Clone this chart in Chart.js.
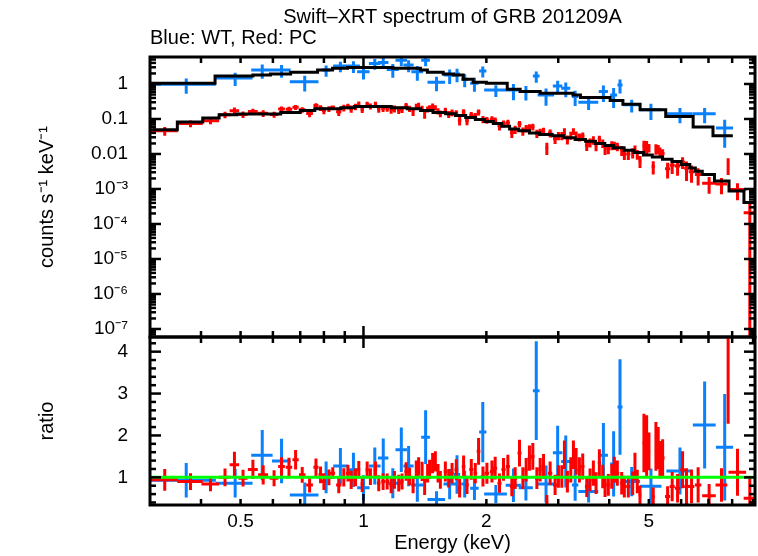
<!DOCTYPE html>
<html><head><meta charset="utf-8">
<script src="https://cdn.jsdelivr.net/npm/chart.js@4/dist/chart.umd.min.js"></script>
<style>
html,body{margin:0;padding:0;background:#fff;}
#wrap{position:relative;width:758px;height:556px;background:#fff;}
#wrap canvas{position:absolute;left:0;top:0;}
</style></head><body>
<div id="wrap"><canvas id="cTop" width="758" height="556"></canvas><canvas id="cBot" width="758" height="556"></canvas></div>
<script>
// ---------- text ----------
const titleText = 'Swift–XRT spectrum of GRB 201209A';
const subtitleText = 'Blue: WT, Red: PC';
const topYTitle = 'counts s⁻¹ keV⁻¹';
const botYTitle = 'ratio';
const xTitle = 'Energy (keV)';

// ---------- axes ----------
const xMin = 0.3, xMax = 9.1;
const topYMin = 5.9e-8, topYMax = 5.9;
const ratioMin = 0.34, ratioMax = 4.35;
const xTickValues = [0.5, 1, 2, 5];
const xTickLabels = ['0.5', '1', '2', '5'];
const xMajorMarks = [1];
const xMinorMarks = [0.4,0.5,0.6,0.7,0.8,0.9,2,3,4,5,6,7,8,9];
const topYTickValues = [1e-7,1e-6,1e-5,1e-4,1e-3,0.01,0.1,1];
const topYTickLabels = ['10⁻⁷','10⁻⁶','10⁻⁵','10⁻⁴','10⁻³','0.01','0.1','1'];
const ratioTickValues = [1,2,3,4];
const ratioTickLabels = ['1','2','3','4'];
const ratioMinorMarks = [0.4,0.6,0.8,1.2,1.4,1.6,1.8,2.2,2.4,2.6,2.8,3.2,3.4,3.6,3.8,4.2];

// ---------- WT (blue) ----------
const blueE  = [0.368,0.485,0.565,0.630,0.718,0.810,0.878,0.945,1.000,1.066,1.118,1.180,1.238,1.290,1.355,1.420,1.510,1.626,1.695,1.770,1.870,1.960,2.110,2.330,2.500,2.650,2.800,2.990,3.130,3.300,3.560,3.870,4.100,4.250,4.540,5.060,5.960,6.850,7.670];
const blueDE = [0.067,0.050,0.034,0.033,0.058,0.020,0.035,0.035,0.035,0.035,0.033,0.040,0.040,0.037,0.045,0.035,0.075,0.055,0.030,0.035,0.045,0.040,0.135,0.100,0.100,0.050,0.130,0.080,0.080,0.060,0.200,0.100,0.080,0.060,0.220,0.310,0.440,0.440,0.370];
const blueV  = [0.98,1.48,2.5,2.5,1.16,2.5,3.25,3.25,2.24,3.87,4.1,2.6,4.8,3.46,2.24,4.8,1.12,1.8,1.92,1.36,1.05,2.34,0.675,0.675,0.605,1.69,0.487,0.88,0.755,0.436,0.302,0.605,0.487,0.937,0.253,0.183,0.14,0.14,0.055];
const blueVE = [0.45,0.6,1.1,1.0,0.55,0.9,1.1,1.2,0.9,1.3,1.4,1.1,1.6,1.3,1.0,1.6,0.5,0.8,0.8,0.55,0.45,0.8,0.25,0.33,0.27,0.6,0.25,0.35,0.34,0.2,0.12,0.3,0.28,0.4,0.1,0.09,0.065,0.065,0.04];
const blueR  = [0.93,0.86,1.53,1.39,0.58,1.0,1.27,1.18,0.75,1.27,1.46,0.86,1.66,1.27,0.82,1.96,0.47,0.84,1.07,0.84,0.74,2.08,0.60,0.81,0.75,3.07,0.84,1.59,1.38,0.82,0.66,1.53,1.32,2.68,0.90,0.79,1.15,2.25,1.72];
const blueRE = [0.41,0.34,0.60,0.53,0.30,0.38,0.43,0.41,0.30,0.44,0.47,0.36,0.53,0.48,0.40,0.64,0.20,0.36,0.46,0.32,0.28,0.72,0.22,0.40,0.30,1.18,0.44,0.64,0.62,0.38,0.26,0.77,0.78,1.14,0.35,0.42,0.56,1.04,1.27];
const blueModelE = [0.30,0.433,0.536,0.592,0.663,0.772,0.84,0.914,1.18,1.379,1.434,1.568,1.66,1.756,1.857,2.0,2.25,2.42,2.71,3.26,3.4,4.02,4.32,4.76,5.5,6.42,7.18,8.03];
const blueModelV = [1.05,1.69,1.8,1.92,2.15,2.5,2.8,2.98,2.8,2.5,2.15,1.92,1.8,1.36,1.12,1.05,0.71,0.605,0.544,0.487,0.41,0.336,0.265,0.183,0.118,0.059,0.0334];

// ---------- PC (red) ----------
const redE = [
0.326,0.377,0.422,0.458,0.483,0.507,0.536,0.568,0.604,0.630,
0.657,0.682,0.708,0.738,0.765,0.785,0.800,0.823,0.841,0.870,
0.895,0.916,0.933,0.956,0.974,0.993,1.021,1.040,1.070,1.090,
1.117,1.143,1.169,1.191,1.220,1.243,1.272,1.297,1.323,1.347,
1.365,1.392,1.412,1.436,1.452,1.477,1.500,1.523,1.543,1.587,
1.617,1.648,1.688,1.720,1.759,1.793,1.837,1.879,1.914,1.962,
2.006,2.064,2.102,2.154,2.203,2.258,2.309,2.353,2.411,2.457,
2.503,2.550,2.599,2.659,2.709,2.760,2.813,2.866,2.947,3.003,
3.061,3.106,3.159,3.220,3.268,3.318,3.380,3.444,3.523,3.589,
3.657,3.713,3.783,3.856,3.906,3.979,4.056,4.115,4.186,4.291,
4.355,4.454,4.565,4.624,4.685,4.757,4.864,4.939,5.004,5.126,
5.204,5.272,5.323,5.405,5.559,5.704,5.880,6.048,6.185,6.362,
6.603,7.025,7.534,7.820,8.245,8.837];
const redDE = [
0.025,0.027,0.021,0.015,0.013,0.013,0.015,0.016,0.015,0.012,
0.012,0.012,0.013,0.014,0.011,0.009,0.009,0.010,0.011,0.013,
0.012,0.010,0.010,0.011,0.009,0.010,0.010,0.010,0.010,0.011,
0.012,0.012,0.012,0.011,0.012,0.012,0.013,0.013,0.012,0.011,
0.011,0.012,0.011,0.011,0.011,0.012,0.012,0.011,0.011,0.015,
0.015,0.017,0.018,0.017,0.018,0.019,0.021,0.020,0.020,0.022,
0.025,0.024,0.023,0.025,0.026,0.026,0.024,0.026,0.027,0.023,
0.023,0.024,0.027,0.028,0.026,0.026,0.026,0.035,0.035,0.028,
0.025,0.024,0.028,0.027,0.025,0.028,0.031,0.035,0.036,0.034,
0.031,0.033,0.036,0.030,0.031,0.038,0.034,0.032,0.045,0.040,
0.045,0.050,0.040,0.030,0.033,0.045,0.045,0.035,0.045,0.050,
0.040,0.030,0.035,0.060,0.080,0.080,0.090,0.080,0.080,0.100,
0.120,0.270,0.250,0.030,0.410,0.300];
const redV = [
0.046,0.074,0.089,0.132,0.172,0.135,0.164,0.146,0.135,0.193,
0.190,0.217,0.184,0.143,0.242,0.207,0.176,0.195,0.215,0.160,
0.210,0.231,0.197,0.226,0.267,0.190,0.267,0.231,0.267,0.194,
0.203,0.203,0.185,0.197,0.181,0.189,0.239,0.199,0.160,0.230,
0.246,0.198,0.136,0.191,0.207,0.233,0.211,0.168,0.144,0.174,
0.137,0.154,0.148,0.0925,0.158,0.090,0.131,0.121,0.157,0.099,
0.0935,0.097,0.090,0.0636,0.0738,0.0781,0.0406,0.051,0.0727,0.0451,
0.0543,0.0584,0.060,0.0392,0.0425,0.0454,0.0151,0.0396,0.0271,0.0337,
0.0337,0.0447,0.0261,0.0342,0.0447,0.0359,0.0307,0.0328,0.0179,0.0216,
0.0253,0.0172,0.0268,0.0204,0.0137,0.0144,0.0179,0.0177,0.0165,0.0129,
0.0100,0.0100,0.0110,0.0139,0.0099,0.0064,0.0171,0.0164,0.0152,0.0044,
0.0143,0.0139,0.0116,0.0104,0.0038,0.0048,0.0045,0.0059,0.0039,0.0031,
0.0026,0.00146,0.00139,0.0050,0.00097,0.00021];
const redVE = [
0.0127,0.0164,0.018,0.0277,0.041,0.0276,0.0317,0.0317,0.0262,0.0337,
0.0352,0.0352,0.033,0.0313,0.041,0.039,0.039,0.037,0.027,0.039,
0.046,0.042,0.046,0.047,0.047,0.043,0.045,0.045,0.045,0.043,
0.045,0.043,0.045,0.044,0.042,0.040,0.046,0.041,0.039,0.043,
0.043,0.040,0.035,0.038,0.040,0.042,0.037,0.034,0.032,0.037,
0.031,0.034,0.031,0.0275,0.0325,0.024,0.0275,0.026,0.031,0.023,
0.021,0.022,0.020,0.017,0.0167,0.0174,0.012,0.0135,0.0147,0.012,
0.0129,0.012,0.0128,0.0104,0.0101,0.0108,0.0058,0.0101,0.0079,0.0089,
0.0089,0.0099,0.0075,0.0087,0.0099,0.0083,0.0078,0.0081,0.0058,0.0062,
0.0069,0.0052,0.0066,0.0056,0.0044,0.0046,0.0051,0.0047,0.0045,0.0041,
0.0033,0.0033,0.0036,0.0036,0.0031,0.0024,0.0066,0.0070,0.0042,0.0018,
0.0048,0.0041,0.0037,0.0032,0.0018,0.0021,0.0021,0.0022,0.0022,0.0016,
0.00134,0.00073,0.00068,0.0025,0.00049,0.00022];
const redR = [
0.94,0.90,0.84,1.00,1.30,0.98,1.19,1.06,0.98,1.26,
1.24,1.42,1.06,0.82,1.24,1.06,0.90,1.00,1.10,0.82,
1.00,1.10,0.94,1.00,1.18,0.84,1.18,1.02,1.18,0.86,
0.90,0.90,0.82,0.94,0.86,0.90,1.14,1.02,0.82,1.18,
1.26,1.14,0.78,1.10,1.19,1.34,1.38,1.10,0.94,1.14,
0.98,1.10,1.18,0.74,1.26,0.82,1.19,1.10,1.62,1.02,
1.10,1.14,1.22,0.86,1.19,1.26,0.78,0.98,1.58,0.98,
1.18,1.46,1.50,0.98,1.18,1.26,0.42,1.10,0.82,1.02,
1.02,1.54,0.90,1.18,1.54,1.38,1.18,1.26,0.78,0.94,
1.10,0.86,1.34,1.02,0.78,0.82,1.02,1.18,1.10,0.86,
0.78,0.78,0.86,1.26,0.90,0.58,1.82,1.74,1.62,0.54,
1.74,1.70,1.42,1.46,0.54,0.78,0.74,1.18,0.78,0.78,
0.82,0.56,0.82,4.28,1.12,0.50];
const redRE = [
0.26,0.20,0.17,0.21,0.31,0.20,0.23,0.23,0.19,0.22,
0.23,0.23,0.19,0.18,0.21,0.20,0.20,0.19,0.14,0.20,
0.22,0.20,0.22,0.21,0.21,0.19,0.20,0.20,0.20,0.19,
0.20,0.19,0.20,0.21,0.20,0.19,0.22,0.21,0.20,0.22,
0.22,0.23,0.20,0.22,0.23,0.24,0.24,0.22,0.21,0.24,
0.22,0.24,0.25,0.22,0.26,0.22,0.25,0.24,0.32,0.24,
0.25,0.26,0.27,0.23,0.27,0.28,0.23,0.26,0.32,0.26,
0.28,0.30,0.32,0.26,0.28,0.30,0.16,0.28,0.24,0.27,
0.27,0.34,0.26,0.30,0.34,0.32,0.30,0.31,0.25,0.27,
0.30,0.26,0.33,0.28,0.25,0.26,0.29,0.31,0.30,0.27,
0.26,0.26,0.28,0.33,0.28,0.22,0.70,0.74,0.45,0.22,
0.58,0.50,0.45,0.45,0.25,0.35,0.34,0.44,0.44,0.40,
0.42,0.28,0.40,2.00,0.56,0.50];
const redModelE = [0.305,0.350,0.404,0.443,0.490,0.627,0.700,0.760,0.880,0.950,1.170,1.280,1.380,1.480,1.590,1.680,1.780,1.880,1.980,2.080,2.180,2.280,2.400,2.550,2.700,2.900,3.100,3.300,3.500,3.700,3.900,4.100,4.350,4.600,4.850,5.100,5.400,5.700,6.000,6.300,6.500,6.760,7.240,7.860,8.550,9.120];
const redModelV = [0.049,0.082,0.106,0.132,0.138,0.153,0.174,0.195,0.210,0.226,0.210,0.195,0.174,0.153,0.140,0.125,0.110,0.097,0.085,0.074,0.062,0.052,0.046,0.040,0.036,0.033,0.029,0.026,0.023,0.020,0.0175,0.0150,0.0128,0.0110,0.0094,0.0082,0.0071,0.0061,0.0050,0.0040,0.0032,0.0026,0.0017,0.00087,0.00041];
const unityLine = [{x: xMin, y: 1}, {x: xMax, y: 1}];

// ---------- colours ----------
const BLUE = 'rgb(10,128,250)', RED = 'rgb(255,0,0)', GREEN = 'rgb(0,255,0)', BLACK = '#000';

// ---------- builders ----------
function errorCrosses(E, dE, V, VE, floor) {
  const pts = [];
  for (let i = 0; i < E.length; i++) {
    pts.push({x: E[i] - dE[i], y: V[i]}, {x: E[i] + dE[i], y: V[i]}, {x: E[i], y: null});
    let lo = V[i] - VE[i];
    if (floor !== undefined && lo <= floor) lo = floor;
    pts.push({x: E[i], y: lo}, {x: E[i], y: V[i] + VE[i]}, {x: E[i], y: null});
  }
  return pts;
}
function stepLine(edges, vals) {
  return edges.map((e, i) => ({x: e, y: vals[Math.min(i, vals.length - 1)]}));
}
function barSet(label, data, color, width, order) {
  return {label, data, showLine: true, borderColor: color, backgroundColor: color, borderWidth: width,
          pointRadius: 0, spanGaps: false, order};
}

// ---------- frame + inward ticks ----------
const framePlugin = {
  id: 'frame',
  afterDatasetsDraw(chart, args, o) {
    const {ctx, chartArea: a, scales} = chart;
    const xs = scales.x, ys = scales.y;
    ctx.save();
    ctx.strokeStyle = BLACK;
    ctx.lineWidth = 3;
    ctx.strokeRect(a.left, a.top, a.right - a.left, a.bottom - a.top);
    ctx.lineWidth = 2.5;
    const seg = (x1, y1, x2, y2) => { ctx.beginPath(); ctx.moveTo(x1, y1); ctx.lineTo(x2, y2); ctx.stroke(); };
    const xt = (vals, len) => vals.forEach(v => {
      const p = xs.getPixelForValue(v);
      if (p < a.left + 1 || p > a.right - 1) return;
      seg(p, a.top, p, a.top + len); seg(p, a.bottom, p, a.bottom - len);
    });
    const yt = (vals, len) => vals.forEach(v => {
      const p = ys.getPixelForValue(v);
      if (p < a.top + 1 || p > a.bottom - 1) return;
      seg(a.left, p, a.left + len, p); seg(a.right, p, a.right - len, p);
    });
    xt(o.xMinor, 6); xt(o.xMajor, 11);
    yt(o.yMinor, 6); yt(o.yMajor, 11);
    ctx.restore();
  }
};

Chart.defaults.font.family = "'Liberation Sans', Arial, Helvetica, sans-serif";
Chart.defaults.color = '#000';

const topYMinorMarks = [];
for (let d = -8; d <= 0; d++) for (let k = 2; k <= 9; k++) {
  const v = k * Math.pow(10, d);
  if (v > topYMin && v < topYMax) topYMinorMarks.push(v);
}

new Chart(document.getElementById('cTop'), {
  type: 'scatter',
  data: {datasets: [
    {...barSet('WT model', stepLine(blueModelE, blueModelV), BLACK, 3, 1), stepped: true},
    {...barSet('PC model', stepLine(redModelE, redModelV), BLACK, 3, 1), stepped: true},
    barSet('PC', errorCrosses(redE, redDE, redV, redVE, topYMin), RED, 3, 2),
    barSet('WT', errorCrosses(blueE, blueDE, blueV, blueVE, topYMin), BLUE, 3, 3)
  ]},
  plugins: [framePlugin],
  options: {
    responsive: false, animation: false, events: [],
    layout: {padding: {top: 0, left: 0, right: 3, bottom: 219}},
    plugins: {
      legend: {display: false}, tooltip: {enabled: false},
      title: {display: true, text: titleText, fullSize: false, align: 'center', color: '#000',
              font: {size: 20, weight: 'normal', lineHeight: 1.0}, padding: {top: 7, bottom: 0}},
      subtitle: {display: true, text: subtitleText, fullSize: false, align: 'start', color: '#000',
              font: {size: 20, weight: 'normal', lineHeight: 1.0}, padding: {top: 1, bottom: 9}},
      frame: {xMajor: xMajorMarks, xMinor: xMinorMarks, yMajor: topYTickValues, yMinor: topYMinorMarks}
    },
    scales: {
      x: {type: 'logarithmic', min: xMin, max: xMax, display: false},
      y: {type: 'logarithmic', min: topYMin, max: topYMax, position: 'left',
          afterBuildTicks: s => { s.ticks = topYTickValues.map(v => ({value: v})); },
          afterFit: s => { s.width = 150; },
          grid: {display: false}, border: {display: false},
          ticks: {autoSkip: false, padding: 14, color: '#000', font: {size: 19},
                  callback: (v, i) => topYTickLabels[i]},
          title: {display: true, text: topYTitle, color: '#000', font: {size: 20}, padding: {top: 35, bottom: 0}}}
    }
  }
});

new Chart(document.getElementById('cBot'), {
  type: 'scatter',
  data: {datasets: [
    barSet('unity', unityLine, GREEN, 3, 0),
    barSet('PC ratio', errorCrosses(redE, redDE, redR, redRE), RED, 3, 2),
    barSet('WT ratio', errorCrosses(blueE, blueDE, blueR, blueRE), BLUE, 3, 3)
  ]},
  plugins: [framePlugin],
  options: {
    responsive: false, animation: false, events: [],
    layout: {padding: {top: 337, left: 0, right: 3, bottom: 0}},
    plugins: {
      legend: {display: false}, tooltip: {enabled: false},
      frame: {xMajor: xMajorMarks, xMinor: xMinorMarks, yMajor: ratioTickValues, yMinor: ratioMinorMarks}
    },
    scales: {
      x: {type: 'logarithmic', min: xMin, max: xMax, position: 'bottom',
          afterBuildTicks: s => { s.ticks = xTickValues.map(v => ({value: v})); },
          afterFit: s => { s.height = 51; },
          grid: {display: false}, border: {display: false},
          ticks: {autoSkip: false, maxRotation: 0, padding: -3, color: '#000', font: {size: 19},
                  callback: (v, i) => xTickLabels[i]},
          title: {display: true, text: xTitle, color: '#000', font: {size: 20}, padding: {top: 0, bottom: 1}}},
      y: {type: 'linear', min: ratioMin, max: ratioMax, position: 'left',
          afterBuildTicks: s => { s.ticks = ratioTickValues.map(v => ({value: v})); },
          afterFit: s => { s.width = 150; },
          grid: {display: false}, border: {display: false},
          ticks: {autoSkip: false, padding: 14, color: '#000', font: {size: 19},
                  callback: (v, i) => ratioTickLabels[i]},
          title: {display: true, text: botYTitle, color: '#000', font: {size: 20}, padding: {top: 35, bottom: 0}}}
    }
  }
});
</script>
</body></html>
